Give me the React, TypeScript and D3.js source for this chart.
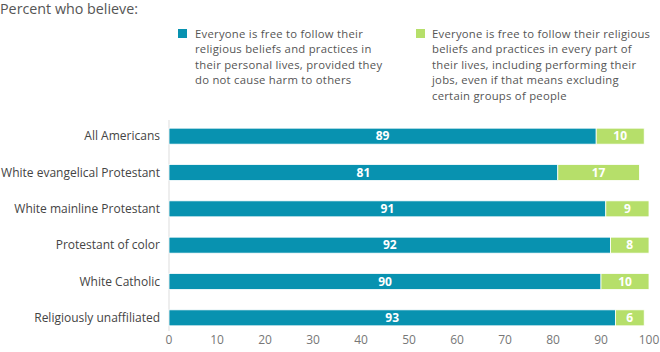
import React from 'react';
import * as d3 from 'd3';

const categories = [
  'All Americans',
  'White evangelical Protestant',
  'White mainline Protestant',
  'Protestant of color',
  'White Catholic',
  'Religiously unaffiliated',
];
const personalValues = [89, 81, 91, 92, 90, 93];
const everyPartValues = [10, 17, 9, 8, 10, 6];
const xTicks = [0, 10, 20, 30, 40, 50, 60, 70, 80, 90, 100];

const legendPersonal = [
  'Everyone is free to follow their',
  'religious beliefs and practices in',
  'their personal lives, provided they',
  'do not cause harm to others',
];
const legendEveryPart = [
  'Everyone is free to follow their religious',
  'beliefs and practices in every part of',
  'their lives, including performing their',
  'jobs, even if that means excluding',
  'certain groups of people',
];

const TEAL = '#0892b0';
const GREEN = '#b6df6a';
const FONT = '"Open Sans", "Noto Sans", sans-serif';

const width = 660;
const height = 352;
const margin = { right: 11, left: 169 };

const App = () => {
  const x = d3.scaleLinear().domain([0, 100]).range([margin.left, width - margin.right]);
  const y = d3
    .scaleBand()
    .domain(categories)
    .range([118, 336])
    .paddingInner(0.56)
    .paddingOuter(0.28);

  const rows = categories.map((c, i) => ({
    cat: c,
    a: personalValues[i],
    b: everyPartValues[i],
  }));

  // legend line spacing
  const lh = 15.4;

  return (
    <svg
      width={width}
      height={height}
      style={{ position: 'absolute', left: 0, top: 0, background: '#fff' }}
      fontFamily={FONT}
    >
      <text x={0} y={14} fontSize={14.3} fill="#555">Percent who believe:</text>

      {/* legend */}
      <rect x={178} y={29} width={9} height={9} fill={TEAL} />
      {legendPersonal.map((t, i) => (
        <text key={t} x={195} y={38 + i * lh} fontSize={11.3} letterSpacing={0.25} fill="#555">{t}</text>
      ))}
      <rect x={416} y={29} width={9} height={9} fill={GREEN} />
      {legendEveryPart.map((t, i) => (
        <text key={t} x={432} y={38 + i * lh} fontSize={11.3} letterSpacing={0.25} fill="#555">{t}</text>
      ))}

      {/* axis line */}
      <line x1={x(0)} x2={x(0)} y1={120} y2={331} stroke="#ddd" strokeWidth={1} />

      {rows.map((d) => {
        const yy = y(d.cat) as number;
        const bw = y.bandwidth();
        return (
          <g key={d.cat}>
            <text
              x={x(0) - 9}
              y={yy + bw / 2}
              dy="0.35em"
              textAnchor="end"
              fontSize={12}
              fill="#444"
            >
              {d.cat}
            </text>
            <rect x={x(0)} y={yy} width={x(d.a) - x(0)} height={bw} fill={TEAL} stroke="#fff" strokeWidth={0.8} />
            <rect x={x(d.a)} y={yy} width={x(d.a + d.b) - x(d.a)} height={bw} fill={GREEN} stroke="#fff" strokeWidth={0.8} />
            <text
              x={(x(0) + x(d.a)) / 2}
              y={yy + bw / 2}
              dy="0.36em"
              textAnchor="middle"
              fontSize={12}
              fontWeight="bold"
              fill="#fff"
            >
              {d.a}
            </text>
            <text
              x={(x(d.a) + x(d.a + d.b)) / 2}
              y={yy + bw / 2}
              dy="0.36em"
              textAnchor="middle"
              fontSize={12}
              fontWeight="bold"
              fill="#fff"
            >
              {d.b}
            </text>
          </g>
        );
      })}

      {xTicks.map((t) => (
        <text key={t} x={x(t)} y={344} textAnchor="middle" fontSize={12} fill="#777">{t}</text>
      ))}
    </svg>
  );
};

export default App;
